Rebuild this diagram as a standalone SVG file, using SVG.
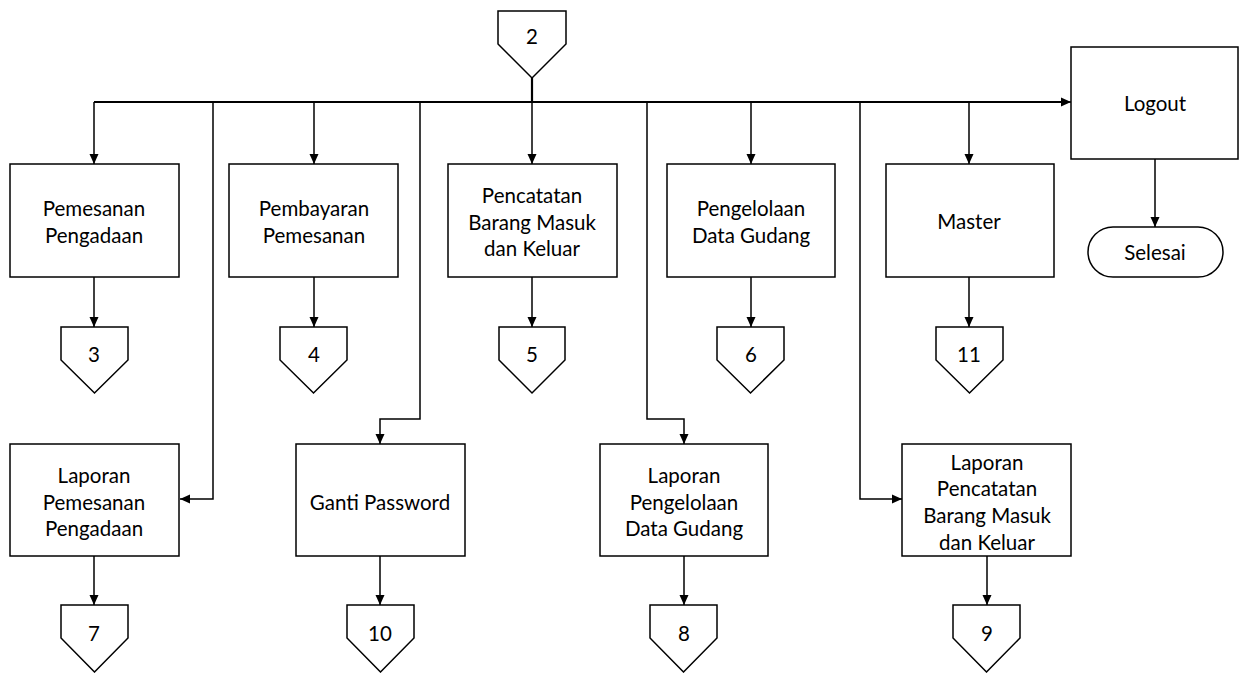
<svg xmlns="http://www.w3.org/2000/svg" width="1240" height="673" viewBox="0 0 1240 673">
<style>
.box{fill:#fff;stroke:#000;stroke-width:1.5}
.t{font-family:Lato,"Open Sans","Liberation Sans",sans-serif;font-size:20.5px;fill:#000;text-anchor:middle;dominant-baseline:central}
.ln{fill:none;stroke:#000;stroke-width:1.5}
.bus{fill:none;stroke:#000;stroke-width:2.2}
</style>
<defs>
<marker id="ah" markerUnits="userSpaceOnUse" markerWidth="10" markerHeight="10" viewBox="0 0 10 10" refX="10" refY="5" orient="auto">
<path d="M0,0.5 L10,5 L0,9.5 z" fill="#000"/>
</marker>
</defs>
<g id="connectors">
<path class="bus" d="M532,78 V102"/>
<path class="bus" d="M94,102 H1061"/>
<path class="ln" d="M1061,102 H1071" marker-end="url(#ah)"/>
<path class="ln" d="M94,102 V164" marker-end="url(#ah)"/>
<path class="ln" d="M314,102 V164" marker-end="url(#ah)"/>
<path class="ln" d="M532,102 V164" marker-end="url(#ah)"/>
<path class="ln" d="M751,102 V164" marker-end="url(#ah)"/>
<path class="ln" d="M969,102 V164" marker-end="url(#ah)"/>
<path class="ln" d="M1155,159 V227" marker-end="url(#ah)"/>
<path class="ln" d="M94,277 V327" marker-end="url(#ah)"/>
<path class="ln" d="M314,277 V327" marker-end="url(#ah)"/>
<path class="ln" d="M532,277 V327" marker-end="url(#ah)"/>
<path class="ln" d="M751,277 V327" marker-end="url(#ah)"/>
<path class="ln" d="M969,277 V327" marker-end="url(#ah)"/>
<path class="ln" d="M213,102 V499 H180" marker-end="url(#ah)"/>
<path class="ln" d="M420,102 V419 H380 V444" marker-end="url(#ah)"/>
<path class="ln" d="M647,102 V419 H684 V444" marker-end="url(#ah)"/>
<path class="ln" d="M860,102 V499 H902" marker-end="url(#ah)"/>
<path class="ln" d="M94,556 V605" marker-end="url(#ah)"/>
<path class="ln" d="M380,556 V605" marker-end="url(#ah)"/>
<path class="ln" d="M684,556 V605" marker-end="url(#ah)"/>
<path class="ln" d="M987,556 V605" marker-end="url(#ah)"/>
</g>
<g id="c2"><path class="box" d="M498,11 H566 V44 L532,78 L498,44 Z"/><text class="t" x="532" y="36">2</text></g>
<g id="logout"><rect class="box" x="1071" y="47" width="167" height="112"/><text class="t" x="1155" y="103">Logout</text></g>
<g id="selesai"><rect class="box" x="1088" y="227" width="135" height="50" rx="25"/><text class="t" x="1155" y="252">Selesai</text></g>
<g id="pemesanan"><rect class="box" x="10" y="164" width="169" height="113"/><text class="t" x="94" y="208">Pemesanan</text><text class="t" x="94" y="235">Pengadaan</text></g>
<g id="pembayaran"><rect class="box" x="229" y="164" width="169" height="113"/><text class="t" x="314" y="208">Pembayaran</text><text class="t" x="314" y="235">Pemesanan</text></g>
<g id="pencatatan"><rect class="box" x="448" y="164" width="169" height="113"/><text class="t" x="532" y="195">Pencatatan</text><text class="t" x="532" y="222">Barang Masuk</text><text class="t" x="532" y="248">dan Keluar</text></g>
<g id="pengelolaan"><rect class="box" x="667" y="164" width="168" height="113"/><text class="t" x="751" y="208">Pengelolaan</text><text class="t" x="751" y="235">Data Gudang</text></g>
<g id="master"><rect class="box" x="886" y="164" width="168" height="113"/><text class="t" x="969" y="221">Master</text></g>
<g id="c3"><path class="box" d="M61,327 H128 V360 L94.5,393 L61,360 Z"/><text class="t" x="94" y="354">3</text></g>
<g id="c4"><path class="box" d="M280,327 H347 V360 L313.5,393 L280,360 Z"/><text class="t" x="314" y="354">4</text></g>
<g id="c5"><path class="box" d="M499,327 H565 V360 L532,393 L499,360 Z"/><text class="t" x="532" y="354">5</text></g>
<g id="c6"><path class="box" d="M717,327 H784 V360 L750.5,393 L717,360 Z"/><text class="t" x="751" y="354">6</text></g>
<g id="c11"><path class="box" d="M936,327 H1003 V360 L969.5,393 L936,360 Z"/><text class="t" x="969" y="354">11</text></g>
<g id="lap-pemesanan"><rect class="box" x="10" y="444" width="169" height="112"/><text class="t" x="94" y="475">Laporan</text><text class="t" x="94" y="502">Pemesanan</text><text class="t" x="94" y="528">Pengadaan</text></g>
<g id="ganti"><rect class="box" x="296" y="444" width="169" height="112"/><text class="t" x="380" y="502">Ganti Password</text></g>
<g id="lap-pengelolaan"><rect class="box" x="600" y="444" width="168" height="112"/><text class="t" x="684" y="475">Laporan</text><text class="t" x="684" y="502">Pengelolaan</text><text class="t" x="684" y="528">Data Gudang</text></g>
<g id="lap-pencatatan"><rect class="box" x="902" y="444" width="169" height="112"/><text class="t" x="987" y="462">Laporan</text><text class="t" x="987" y="488">Pencatatan</text><text class="t" x="987" y="515">Barang Masuk</text><text class="t" x="987" y="542">dan Keluar</text></g>
<g id="c7"><path class="box" d="M61,605 H128 V638 L94.5,672 L61,638 Z"/><text class="t" x="94" y="633">7</text></g>
<g id="c10"><path class="box" d="M347,605 H414 V638 L380.5,672 L347,638 Z"/><text class="t" x="380" y="633">10</text></g>
<g id="c8"><path class="box" d="M650,605 H717 V638 L683.5,672 L650,638 Z"/><text class="t" x="684" y="633">8</text></g>
<g id="c9"><path class="box" d="M953,605 H1020 V638 L986.5,672 L953,638 Z"/><text class="t" x="987" y="633">9</text></g>
</svg>
